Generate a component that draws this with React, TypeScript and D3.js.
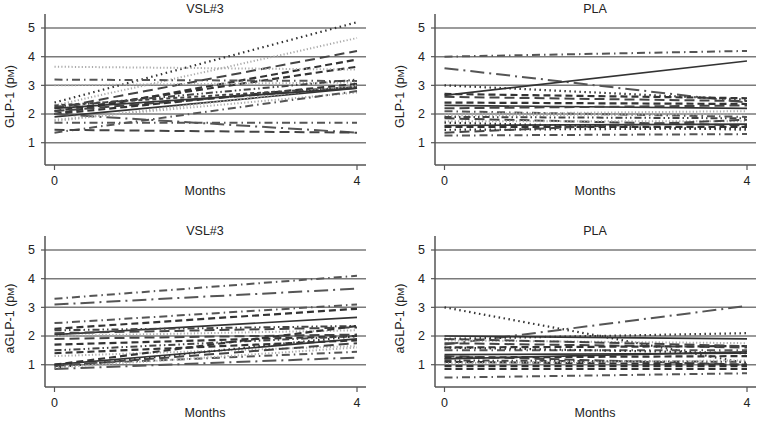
import React from "react";
import * as d3 from "d3";

const months = [0, 4];
const yTicks = [1, 2, 3, 4, 5];

// Panel A: VSL#3, GLP-1
const vslGlpStart = [2.4, 2.3, 2.2, 2.0, 2.1, 3.65, 3.2, 3.0, 2.25, 1.9, 2.1, 2.0, 1.8, 1.35, 2.0, 1.7, 1.45, 2.3, 1.75, 2.2];
const vslGlpEnd = [5.2, 4.65, 4.2, 3.9, 3.65, 3.55, 3.15, 3.1, 3.2, 2.9, 2.95, 3.05, 2.75, 2.8, 1.35, 1.7, 1.35, 2.95, 3.0, 2.9];
// Panel B: PLA, GLP-1
const plaGlpStart = [4.0, 3.6, 2.65, 3.0, 2.7, 2.6, 2.4, 2.3, 2.2, 2.1, 1.95, 1.9, 1.85, 1.75, 1.6, 1.55, 1.45, 1.35, 1.25, 2.0, 1.7];
const plaGlpEnd = [4.2, 2.4, 3.85, 2.5, 2.55, 2.45, 2.35, 2.2, 2.3, 1.9, 2.0, 1.85, 1.6, 1.75, 1.65, 1.55, 1.5, 1.8, 1.3, 2.1, 1.45];
// Panel C: VSL#3, aGLP-1
const vslAglpStart = [3.3, 3.1, 2.45, 2.25, 2.05, 2.2, 2.1, 2.0, 1.9, 1.7, 1.5, 1.4, 1.3, 1.0, 0.95, 0.9, 1.0, 0.85, 0.9, 1.0];
const vslAglpEnd = [4.1, 3.65, 3.1, 2.95, 2.65, 2.35, 2.3, 2.2, 2.05, 2.0, 2.0, 1.85, 1.65, 1.9, 1.75, 2.0, 1.45, 1.25, 1.6, 2.35];
// Panel D: PLA, aGLP-1
const plaAglpStart = [3.0, 1.7, 2.0, 1.9, 1.85, 1.75, 1.6, 1.5, 1.35, 1.3, 1.25, 1.2, 1.15, 1.1, 1.05, 0.95, 0.85, 0.55, 1.6, 1.9];
const plaAglpEnd = [1.05, 3.05, 1.9, 2.1, 1.75, 1.6, 1.65, 1.5, 1.4, 1.0, 1.3, 1.45, 1.1, 1.0, 1.15, 0.95, 0.85, 0.7, 1.4, 1.65];

const styleA = ["dotDark", "dotLight", "longDash", "dash", "dash", "dotLight", "dashDot", "dotLight", "dashDotDot", "solid", "longDash", "dash", "dotLight", "dashDot", "longDashDot", "dashDot", "longDash", "shortDash", "dotLight", "solid"];
const styleB = ["dashDot", "longDashDot", "solid", "dotDark", "dash", "longDash", "dash", "solid", "longDash", "dashDot", "dotLight", "dashDotDot", "longDash", "dotLight", "solid", "dash", "dotDark", "longDash", "dashDot", "dotLight", "dotDark"];
const styleC = ["dashDot", "longDashDot", "dashDot", "dash", "solid", "dashDotDot", "longDash", "dotLight", "longDash", "dash", "dashDotDot", "dash", "dotLight", "solid", "longDash", "dotDark", "dashDot", "longDashDot", "dotLight", "dash"];
const styleD = ["dotDark", "longDashDot", "solid", "dotDark", "dotLight", "longDash", "dash", "dashDot", "solid", "longDash", "dash", "solid", "dashDotDot", "dash", "dotLight", "dash", "dash", "dashDot", "dotDark", "longDash"];

const STYLES: Record<string, { dash: string; color: string; width: number }> = {
  dotDark: { dash: "1.5,3.5", color: "#333", width: 2.2 },
  dotLight: { dash: "1.2,2.2", color: "#aaa", width: 2 },
  longDash: { dash: "10,5", color: "#444", width: 2 },
  dash: { dash: "7,4", color: "#333", width: 2.2 },
  shortDash: { dash: "4,3", color: "#444", width: 2 },
  solid: { dash: "", color: "#333", width: 1.7 },
  dashDot: { dash: "8,4,1.5,4", color: "#555", width: 2 },
  longDashDot: { dash: "14,5,2,5", color: "#555", width: 2 },
  dashDotDot: { dash: "7,3,1.5,3,1.5,3", color: "#444", width: 2 },
};

const panels = [
  { title: "VSL#3", label: "GLP-1", start: vslGlpStart, end: vslGlpEnd, styles: styleA, ox: 0, oy: 0 },
  { title: "PLA", label: "GLP-1", start: plaGlpStart, end: plaGlpEnd, styles: styleB, ox: 390, oy: 0 },
  { title: "VSL#3", label: "aGLP-1", start: vslAglpStart, end: vslAglpEnd, styles: styleC, ox: 0, oy: 222 },
  { title: "PLA", label: "aGLP-1", start: plaAglpStart, end: plaAglpEnd, styles: styleD, ox: 390, oy: 222 },
];

const FONT = "Liberation Sans, Arial, sans-serif";
const FS = 12.5;

function Panel({ p }: { p: (typeof panels)[number] }) {
  const x = d3.scaleLinear().domain([0, 4]).range([54.5, 357]);
  const y = d3.scaleLinear().domain([1, 5]).range([142.7, 28]);
  const axisX = 45;
  const axisBottom = 165;
  const axisTop = 14;
  const right = 366;
  const line = d3
    .line<number[]>()
    .x((d) => x(d[0]))
    .y((d) => y(d[1]));
  return (
    <g transform={`translate(${p.ox},${p.oy})`}>
      <text x={205} y={13} textAnchor="middle" fontSize={FS} fontFamily={FONT} fill="#222">
        {p.title}
      </text>
      {yTicks.map((t) => (
        <g key={t}>
          <line x1={axisX} x2={right} y1={y(t)} y2={y(t)} stroke="#7a7a7a" strokeWidth={1.5} />
          <line x1={axisX - 4} x2={axisX} y1={y(t)} y2={y(t)} stroke="#555" strokeWidth={1.2} />
          <text x={axisX - 10} y={y(t)} dy="0.35em" textAnchor="end" fontSize={FS} fontFamily={FONT} fill="#222">
            {t}
          </text>
        </g>
      ))}
      {p.start.map((s, i) => {
        const st = STYLES[p.styles[i]];
        return (
          <path
            key={i}
            d={line([
              [months[0], s],
              [months[1], p.end[i]],
            ]) || ""}
            fill="none"
            stroke={st.color}
            strokeWidth={st.width}
            strokeDasharray={st.dash || undefined}
          />
        );
      })}
      <line x1={axisX} x2={axisX} y1={axisTop} y2={axisBottom} stroke="#555" strokeWidth={1.5} />
      <line x1={axisX} x2={right} y1={axisBottom} y2={axisBottom} stroke="#555" strokeWidth={1.5} />
      {months.map((m) => (
        <g key={m}>
          <line x1={x(m)} x2={x(m)} y1={axisBottom} y2={axisBottom + 5} stroke="#555" strokeWidth={1.2} />
          <text x={x(m)} y={185} textAnchor="middle" fontSize={FS} fontFamily={FONT} fill="#222">
            {m}
          </text>
        </g>
      ))}
      <text x={205} y={195} textAnchor="middle" fontSize={FS} fontFamily={FONT} fill="#222">
        Months
      </text>
      <text
        transform={`translate(14,${(axisTop + axisBottom) / 2 + 7}) rotate(-90)`}
        textAnchor="middle"
        fontSize={FS}
        fontFamily={FONT}
        fill="#222"
      >
        {p.label} (p<tspan fontSize={9.5}>M</tspan>)
      </text>
    </g>
  );
}

export default function App() {
  return (
    <svg width={762} height={422} style={{ display: "block", position: "absolute", left: 0, top: 0, background: "#fff" }}>
      <rect width={762} height={422} fill="#fff" />
      {panels.map((p, i) => (
        <Panel key={i} p={p} />
      ))}
    </svg>
  );
}
